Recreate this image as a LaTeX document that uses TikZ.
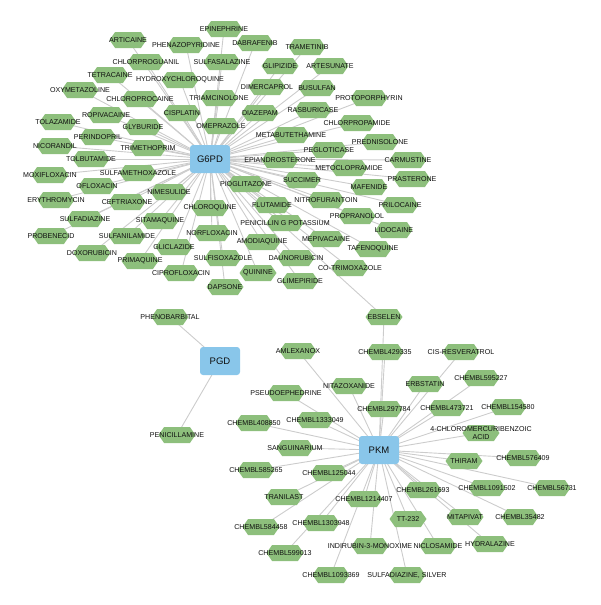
\documentclass[tikz,border=0pt]{standalone}
\usepackage{fontspec}
\setmainfont{Liberation Sans}
\usetikzlibrary{shapes.symbols}
\pgfdeclarelayer{bg}
\pgfsetlayers{bg,main}
\definecolor{hexgreen}{RGB}{141,191,124}
\definecolor{hubblue}{RGB}{137,198,234}
\definecolor{edgegray}{RGB}{204,204,204}
\definecolor{txt}{RGB}{15,15,15}
\tikzset{
 drug/.style={shape=signal, signal to=east and west, signal pointer angle=110, fill=hexgreen, minimum width=37pt, minimum height=16pt, inner sep=0pt, outer sep=0pt},
 lbl/.style={font=\fontsize{7.1}{7.6}\selectfont, text=txt, inner sep=0pt, align=center},
 hub/.style={rectangle, rounded corners=3pt, fill=hubblue, minimum width=40pt, minimum height=28pt, inner sep=0pt, font=\fontsize{9.5}{11}\selectfont, text=txt},
 edge/.style={draw=edgegray, line width=0.9pt}
}
\newcommand\drg[4]{\node[drug, label={[lbl]center:{#4}}] (#1) at (#2,#3) {};}
\begin{document}
\begin{tikzpicture}[x=1pt,y=-1pt]
\useasboundingbox (0,0) rectangle (600,605);
% hubs
\node[hub] (g6pd) at (210,159) {G6PD};
\node[hub] (pgd) at (220,361) {PGD};
\node[hub] (pkm) at (379,450) {PKM};
% G6PD neighbours
\drg{articaine}{128}{40}{ARTICAINE}
\drg{epinephrine}{224}{29}{EPINEPHRINE}
\drg{phenazopyridine}{186}{45}{PHENAZOPYRIDINE}
\drg{dabrafenib}{255}{43}{DABRAFENIB}
\drg{trametinib}{307}{47}{TRAMETINIB}
\drg{chlorproguanil}{146}{62}{CHLORPROGUANIL}
\drg{sulfasalazine}{222}{62}{SULFASALAZINE}
\drg{glipizide}{280}{66}{GLIPIZIDE}
\drg{artesunate}{330}{66}{ARTESUNATE}
\drg{tetracaine}{110}{75}{TETRACAINE}
\drg{hydroxychloroquine}{180}{80}{HYDROXYCHLOROQUINE}
\drg{dimercaprol}{267}{87}{DIMERCAPROL}
\drg{busulfan}{317}{88}{BUSULFAN}
\drg{oxymetazoline}{80}{90}{OXYMETAZOLINE}
\drg{chloroprocaine}{140}{99}{CHLOROPROCAINE}
\drg{triamcinolone}{219}{98}{TRIAMCINOLONE}
\drg{protoporphyrin}{369}{98}{PROTOPORPHYRIN}
\drg{rasburicase}{313}{110}{RASBURICASE}
\drg{ropivacaine}{106}{115}{ROPIVACAINE}
\drg{cisplatin}{182}{113}{CISPLATIN}
\drg{diazepam}{260}{113}{DIAZEPAM}
\drg{chlorpropamide}{357}{123}{CHLORPROPAMIDE}
\drg{tolazamide}{58}{122}{TOLAZAMIDE}
\drg{glyburide}{143}{127}{GLYBURIDE}
\drg{omeprazole}{221}{126}{OMEPRAZOLE}
\drg{metabutethamine}{291}{135}{METABUTETHAMINE}
\drg{prednisolone}{380}{142}{PREDNISOLONE}
\drg{perindopril}{98}{137}{PERINDOPRIL}
\drg{nicorandil}{55}{146}{NICORANDIL}
\drg{trimethoprim}{148}{148}{TRIMETHOPRIM}
\drg{pegloticase}{329}{150}{PEGLOTICASE}
\drg{carmustine}{408}{160}{CARMUSTINE}
\drg{tolbutamide}{91}{159}{TOLBUTAMIDE}
\drg{epiandrosterone}{280}{160}{EPIANDROSTERONE}
\drg{metoclopramide}{349}{168}{METOCLOPRAMIDE}
\drg{prasterone}{412}{179}{PRASTERONE}
\drg{moxifloxacin}{50}{175}{MOXIFLOXACIN}
\drg{sulfamethoxazole}{138}{173}{SULFAMETHOXAZOLE}
\drg{succimer}{302}{180}{SUCCIMER}
\drg{mafenide}{369}{187}{MAFENIDE}
\drg{ofloxacin}{97}{186}{OFLOXACIN}
\drg{pioglitazone}{246}{184}{PIOGLITAZONE}
\drg{nimesulide}{169}{192}{NIMESULIDE}
\drg{nitrofurantoin}{326}{200}{NITROFURANTOIN}
\drg{prilocaine}{400}{205}{PRILOCAINE}
\drg{erythromycin}{56}{200}{ERYTHROMYCIN}
\drg{ceftriaxone}{127}{202}{CEFTRIAXONE}
\drg{chloroquine}{210}{208}{CHLOROQUINE}
\drg{flutamide}{272}{205}{FLUTAMIDE}
\drg{propranolol}{357}{216}{PROPRANOLOL}
\drg{sulfadiazine}{85}{219}{SULFADIAZINE}
\drg{sitamaquine}{160}{221}{SITAMAQUINE}
\drg{penicillin}{285}{223}{PENICILLIN G POTASSIUM}
\drg{lidocaine}{394}{230}{LIDOCAINE}
\drg{probenecid}{51}{236}{PROBENECID}
\drg{sulfanilamide}{127}{236}{SULFANILAMIDE}
\drg{norfloxacin}{212}{233}{NORFLOXACIN}
\drg{mepivacaine}{326}{239}{MEPIVACAINE}
\drg{amodiaquine}{262}{242}{AMODIAQUINE}
\drg{tafenoquine}{373}{249}{TAFENOQUINE}
\drg{doxorubicin}{92}{253}{DOXORUBICIN}
\drg{gliclazide}{174}{247}{GLICLAZIDE}
\drg{sulfisoxazole}{223}{258}{SULFISOXAZOLE}
\drg{daunorubicin}{296}{258}{DAUNORUBICIN}
\drg{cotrimoxazole}{350}{268}{CO-TRIMOXAZOLE}
\drg{primaquine}{140}{261}{PRIMAQUINE}
\drg{ciprofloxacin}{181}{273}{CIPROFLOXACIN}
\drg{quinine}{258}{273}{QUININE}
\drg{glimepiride}{300}{281}{GLIMEPIRIDE}
\drg{dapsone}{225}{287}{DAPSONE}
% shared
\drg{ebselen}{384}{317}{EBSELEN}
% PGD neighbours
\drg{phenobarbital}{170}{317}{PHENOBARBITAL}
\drg{penicillamine}{177}{435}{PENICILLAMINE}
% PKM neighbours
\drg{chemblA}{385}{352}{CHEMBL429335}
\drg{cisresveratrol}{461}{352}{CIS-RESVERATROL}
\drg{amlexanox}{298}{351}{AMLEXANOX}
\drg{chemblB}{481}{378}{CHEMBL595227}
\drg{erbstatin}{425}{384}{ERBSTATIN}
\drg{nitazoxanide}{349}{386}{NITAZOXANIDE}
\drg{pseudoephedrine}{286}{393}{PSEUDOEPHEDRINE}
\drg{chemblC}{384}{409}{CHEMBL297784}
\drg{chemblD}{447}{408}{CHEMBL473721}
\drg{chemblE}{508}{407}{CHEMBL154580}
\drg{chemblF}{254}{423}{CHEMBL408850}
\drg{chemblG}{315}{420}{CHEMBL1333049}
\drg{cmba}{481}{433}{4-CHLOROMERCURIBENZOIC\\ACID}
\drg{sanguinarium}{295}{448}{SANGUINARIUM}
\drg{chemblH}{256}{470}{CHEMBL585265}
\drg{chemblI}{329}{473}{CHEMBL125044}
\drg{thiram}{464}{461}{THIRAM}
\drg{chemblJ}{523}{458}{CHEMBL576409}
\drg{tranilast}{284}{497}{TRANILAST}
\drg{chemblK}{364}{499}{CHEMBL1214407}
\drg{chemblL}{423}{490}{CHEMBL261693}
\drg{chemblM}{487}{488}{CHEMBL1091502}
\drg{chemblN}{552}{488}{CHEMBL56731}
\drg{chemblO}{261}{527}{CHEMBL584458}
\drg{chemblP}{321}{523}{CHEMBL1303948}
\drg{tt}{408}{519}{TT-232}
\drg{mitapivat}{465}{517}{MITAPIVAT}
\drg{chemblQ}{520}{517}{CHEMBL35482}
\drg{chemblR}{285}{553}{CHEMBL599013}
\drg{indirubin}{370}{546}{INDIRUBIN-3-MONOXIME}
\drg{niclosamide}{438}{546}{NICLOSAMIDE}
\drg{hydralazine}{490}{544}{HYDRALAZINE}
\drg{chemblS}{331}{575}{CHEMBL1093369}
\drg{sdsilver}{407}{575}{SULFADIAZINE, SILVER}
% edges
\begin{pgfonlayer}{bg}
\foreach \n in {articaine,epinephrine,phenazopyridine,dabrafenib,trametinib,chlorproguanil,sulfasalazine,glipizide,artesunate,tetracaine,hydroxychloroquine,dimercaprol,busulfan,oxymetazoline,chloroprocaine,triamcinolone,protoporphyrin,rasburicase,ropivacaine,cisplatin,diazepam,chlorpropamide,tolazamide,glyburide,omeprazole,metabutethamine,prednisolone,perindopril,nicorandil,trimethoprim,pegloticase,carmustine,tolbutamide,epiandrosterone,metoclopramide,prasterone,moxifloxacin,sulfamethoxazole,succimer,mafenide,ofloxacin,pioglitazone,nimesulide,nitrofurantoin,prilocaine,erythromycin,ceftriaxone,chloroquine,flutamide,propranolol,sulfadiazine,sitamaquine,penicillin,lidocaine,probenecid,sulfanilamide,norfloxacin,mepivacaine,amodiaquine,tafenoquine,doxorubicin,gliclazide,sulfisoxazole,daunorubicin,cotrimoxazole,primaquine,ciprofloxacin,quinine,glimepiride,dapsone,ebselen}
  \draw[edge] (g6pd.center) -- (\n.center);
\foreach \n in {phenobarbital,penicillamine}
  \draw[edge] (pgd.center) -- (\n.center);
\foreach \n in {ebselen,chemblA,cisresveratrol,amlexanox,chemblB,erbstatin,nitazoxanide,pseudoephedrine,chemblC,chemblD,chemblE,chemblF,chemblG,cmba,sanguinarium,chemblH,chemblI,thiram,chemblJ,tranilast,chemblK,chemblL,chemblM,chemblN,chemblO,chemblP,tt,mitapivat,chemblQ,chemblR,indirubin,niclosamide,hydralazine,chemblS,sdsilver}
  \draw[edge] (pkm.center) -- (\n.center);
\end{pgfonlayer}
\end{tikzpicture}
\end{document}
